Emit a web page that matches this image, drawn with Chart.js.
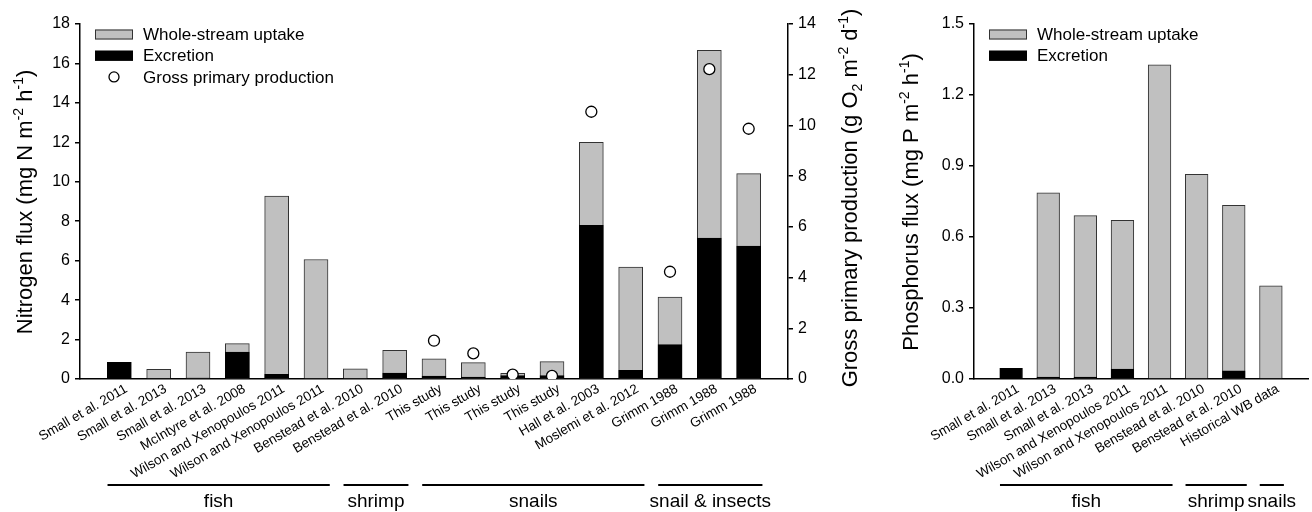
<!DOCTYPE html>
<html>
<head>
<meta charset="utf-8">
<script src="https://cdn.jsdelivr.net/npm/chart.js@4"></script>
<style>
  html, body { margin: 0; padding: 0; background: #fff; }
  body { width: 1312px; height: 512px; position: relative; overflow: hidden; }
  #left { position: absolute; left: 0; top: 0; }
  #right { position: absolute; left: 880px; top: 0; }
</style>
</head>
<body>
<canvas id="left" width="880" height="512"></canvas>
<canvas id="right" width="432" height="512"></canvas>
<script>
// 氮通量（左图）
const nLabels = ['Small et al. 2011', 'Small et al. 2013', 'Small et al. 2013', 'McIntyre et al. 2008',
    'Wilson and Xenopoulos 2011', 'Wilson and Xenopoulos 2011', 'Benstead et al. 2010', 'Benstead et al. 2010',
    'This study', 'This study', 'This study', 'This study', 'Hall et al. 2003', 'Moslemi et al. 2012',
    'Grimm 1988', 'Grimm 1988', 'Grimm 1988'];
const nUptake = [null, 0.49, 1.37, 1.79, 9.28, 6.06, 0.52, 1.46, 1.02, 0.83, 0.29, 0.88, 12.0, 5.67, 4.16, 16.66, 10.41];
const nExcretion = [0.85, 0.04, 0.05, 1.37, 0.24, null, null, 0.30, 0.15, 0.10, 0.17, 0.17, 7.79, 0.44, 1.74, 7.14, 6.74];
const gpp = [null, null, null, null, null, null, null, null, 1.51, 1.01, 0.17, 0.12, 10.54, null, 4.23, 12.22, 9.87];
const nGroups = [['fish', 1, 6], ['shrimp', 7, 8], ['snails', 9, 14], ['snail & insects', 15, 17]];

// 磷通量（右图）
const pLabels = ['Small et al. 2011', 'Small et al. 2013', 'Small et al. 2013', 'Wilson and Xenopoulos 2011',
    'Wilson and Xenopoulos 2011', 'Benstead et al. 2010', 'Benstead et al. 2010', 'Historical WB data'];
const pUptake = [null, 0.787, 0.69, 0.67, 1.328, 0.865, 0.734, 0.394];
const pExcretion = [0.045, 0.008, 0.008, 0.042, null, null, 0.034, 0.003];
const pGroups = [['fish', 1, 5], ['shrimp', 6, 7], ['snails', 8, 8]];

const FONT = "'Liberation Sans', Arial, sans-serif";
const GREY = '#c0c0c0';

const toXY = arr => arr.map((v, i) => ({ x: i + 1, y: v }));

// 带上下标的文字
function drawRich(ctx, parts, x, y, size) {
    ctx.save();
    ctx.translate(x, y);
    ctx.rotate(-Math.PI / 2);
    const small = Math.round(size * 0.62);
    let total = 0;
    const widths = parts.map(([t, m]) => {
        ctx.font = (m ? small : size) + 'px ' + FONT;
        const w = ctx.measureText(t).width;
        total += w;
        return w;
    });
    let cx = -total / 2;
    ctx.textBaseline = 'alphabetic';
    ctx.textAlign = 'left';
    ctx.fillStyle = '#000';
    parts.forEach(([t, m], i) => {
        ctx.font = (m ? small : size) + 'px ' + FONT;
        const dy = m === 1 ? -size * 0.42 : (m === -1 ? size * 0.22 : 0);
        ctx.fillText(t, cx, dy);
        cx += widths[i];
    });
    ctx.restore();
}

// 标题、图例、分组线
const decoPlugin = {
    id: 'deco',
    afterDraw(chart, args, opts) {
        const ctx = chart.ctx;
        const xs = chart.scales.x;
        opts.titles.forEach(t => drawRich(ctx, t.parts, t.x, t.y, 22));

        // 图例
        ctx.save();
        ctx.font = '17px ' + FONT;
        ctx.textBaseline = 'middle';
        ctx.fillStyle = '#000';
        chart.data.datasets.forEach((ds, i) => {
            const cy = opts.legendY + i * 21.2;
            const lx = opts.legendX;
            if (ds.type === 'line') {
                ctx.beginPath();
                ctx.arc(lx + 19, cy, 5, 0, Math.PI * 2);
                ctx.fillStyle = '#fff';
                ctx.fill();
                ctx.lineWidth = 1.3;
                ctx.strokeStyle = '#000';
                ctx.stroke();
            } else {
                ctx.fillStyle = ds.backgroundColor;
                ctx.fillRect(lx, cy - 5, 38, 10);
                ctx.lineWidth = 1;
                ctx.strokeStyle = ds.borderColor;
                ctx.strokeRect(lx + 0.5, cy - 4.5, 37, 9);
            }
            ctx.fillStyle = '#000';
            ctx.fillText(ds.label, lx + 48, cy + 1);
        });

        // 分组线和文字
        ctx.font = '19px ' + FONT;
        ctx.textAlign = 'center';
        ctx.textBaseline = 'alphabetic';
        ctx.strokeStyle = '#000';
        ctx.lineWidth = 2;
        opts.groups.forEach(([name, a, b]) => {
            const x0 = xs.getPixelForValue(a - 0.3);
            const x1 = xs.getPixelForValue(b + 0.35);
            ctx.beginPath();
            ctx.moveTo(x0, 485);
            ctx.lineTo(x1, 485);
            ctx.stroke();
            ctx.fillText(name, (x0 + x1) / 2, 507);
        });
        ctx.restore();
    }
};

function xScale(labels, max) {
    return {
        type: 'linear', min: 0, max: max, offset: false,
        grid: { display: false },
        border: { color: '#000', width: 1.5 },
        afterBuildTicks: s => { s.ticks = labels.map((_, i) => ({ value: i + 1 })); },
        afterFit: s => { s.height = 133; },
        ticks: {
            callback: v => labels[v - 1],
            minRotation: 30, maxRotation: 30, autoSkip: false, padding: -6, labelOffset: 7,
            color: '#000', font: { size: 13.5, family: FONT }
        }
    };
}

function yScale(pos, max, step, width, fmt) {
    return {
        position: pos, min: 0, max: max,
        grid: { drawOnChartArea: false, tickLength: 5, color: '#000', lineWidth: 1.5 },
        border: { color: '#000', width: 1.5 },
        afterFit: s => { s.width = width; },
        ticks: { stepSize: step, padding: 5, color: '#000', font: { size: 16, family: FONT }, callback: fmt }
    };
}

function barSet(label, data, fill, border, thick, order) {
    return {
        label: label, data: toXY(data), backgroundColor: fill, borderColor: border,
        borderWidth: 1, barThickness: thick, grouped: false, order: order, yAxisID: 'y'
    };
}

Chart.defaults.font.family = FONT;

new Chart(document.getElementById('left'), {
    type: 'bar',
    data: {
        datasets: [
            barSet('Whole-stream uptake', nUptake, GREY, '#333', 24, 3),
            barSet('Excretion', nExcretion, '#000', '#000', 24, 2),
            {
                type: 'line', label: 'Gross primary production', data: toXY(gpp), yAxisID: 'y1',
                showLine: false, pointRadius: 5.5, pointBackgroundColor: '#fff',
                pointBorderColor: '#000', pointBorderWidth: 1.3, order: 1
            }
        ]
    },
    options: {
        responsive: false, animation: false, events: [], devicePixelRatio: 1,
        layout: { padding: { top: 24, left: 0, right: 0, bottom: 0 } },
        scales: {
            x: xScale(nLabels, 18),
            y: yScale('left', 18, 2, 80, v => v),
            y1: yScale('right', 14, 2, 92, v => v)
        },
        plugins: {
            legend: { display: false }, tooltip: { enabled: false },
            deco: {
                legendX: 95, legendY: 34.5, groups: nGroups,
                titles: [
                    { x: 32, y: 202, parts: [['Nitrogen flux (mg N m', 0], ['-2', 1], [' h', 0], ['-1', 1], [')', 0]] },
                    { x: 857, y: 198, parts: [['Gross primary production (g O', 0], ['2', -1], [' m', 0], ['-2', 1], [' d', 0], ['-1', 1], [')', 0]] }
                ]
            }
        }
    },
    plugins: [decoPlugin]
});

new Chart(document.getElementById('right'), {
    type: 'bar',
    data: {
        datasets: [
            barSet('Whole-stream uptake', pUptake, GREY, '#333', 22.7, 3),
            barSet('Excretion', pExcretion, '#000', '#000', 22.7, 2)
        ]
    },
    options: {
        responsive: false, animation: false, events: [], devicePixelRatio: 1,
        layout: { padding: { top: 24, left: 0, right: 4, bottom: 0 } },
        scales: {
            x: xScale(pLabels, 9),
            y: yScale('left', 1.5, 0.3, 94, v => v.toFixed(1))
        },
        plugins: {
            legend: { display: false }, tooltip: { enabled: false },
            deco: {
                legendX: 109, legendY: 34.5, groups: pGroups,
                titles: [
                    { x: 38, y: 202, parts: [['Phosphorus flux (mg P m', 0], ['-2', 1], [' h', 0], ['-1', 1], [')', 0]] }
                ]
            }
        }
    },
    plugins: [decoPlugin]
});
</script>
</body>
</html>
